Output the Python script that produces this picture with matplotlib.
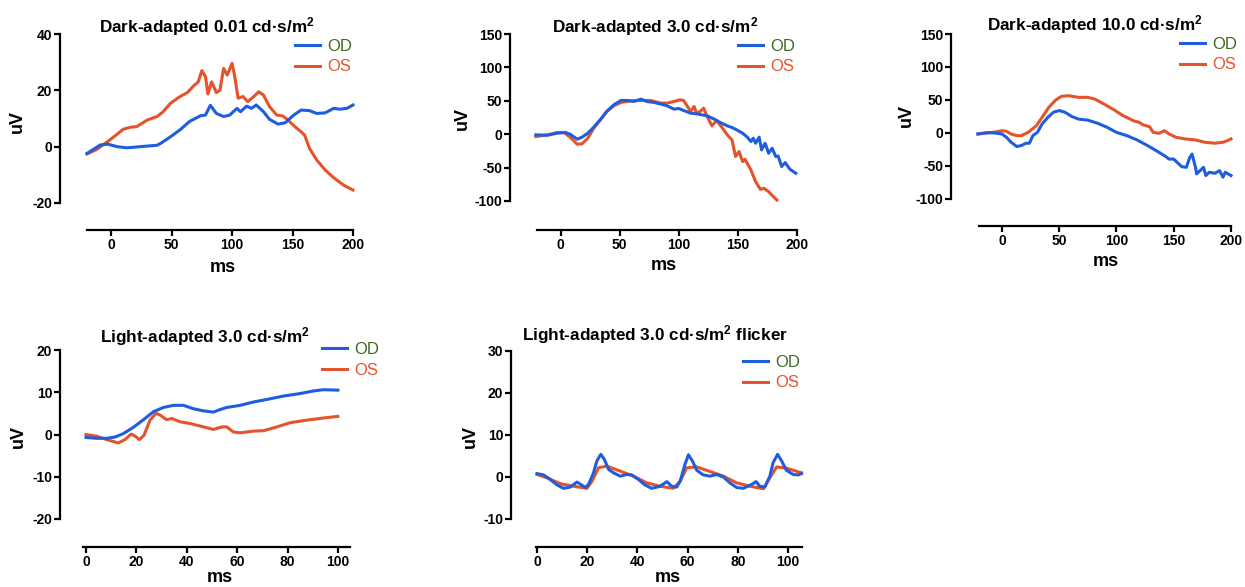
import matplotlib
matplotlib.use("Agg")
import matplotlib.pyplot as plt

plt.rcParams['font.family'] = ['Liberation Sans', 'DejaVu Sans']
plt.rcParams['mathtext.fontset'] = 'custom'
plt.rcParams['mathtext.rm'] = 'Liberation Sans:bold'
plt.rcParams['mathtext.bf'] = 'Liberation Sans:bold'
plt.rcParams['mathtext.default'] = 'bf'
plt.rcParams['axes.unicode_minus'] = False

BLUE = '#1f5ddf'
ORANGE = '#e5532a'
GREEN = '#3d6b21'

series_labels = ['OD', 'OS']

# ---- Panel 1: Dark-adapted 0.01
p1_od_x = [-20, -9, -3, 5, 13, 24, 38, 41, 49, 57, 65, 74, 78, 82, 87, 93, 98, 104, 107, 112, 116, 120,
           126, 131, 138, 144, 151, 157, 164, 170, 177, 184, 189, 195, 200]
p1_od_y = [-2.4, 0.6, 0.9, 0, -0.4, 0, 0.5, 1.2, 3.5, 6, 9, 11, 11.2, 14.7, 11.8, 10.7, 11.2, 13.6, 12.4,
           14.4, 13.6, 14.8, 12.4, 9.7, 8, 8.5, 11.2, 13, 12.8, 11.8, 12, 13.6, 13.3, 13.6, 14.8]
p1_os_x = [-20, -12, -3, 4, 10, 16, 21, 30, 38, 43, 49, 57, 63, 68, 72, 75, 78, 80, 83, 87, 90, 93, 96,
           100, 102, 105, 109, 113, 118, 122, 126, 131, 137, 142, 146, 152, 157, 160, 164, 170, 177, 184,
           192, 200]
p1_os_y = [-2.6, -1, 1.8, 4.1, 6.2, 6.9, 7.1, 9.5, 10.7, 12.4, 15.4, 17.8, 19.2, 21.5, 23, 27, 24.9,
           18.7, 23, 19.2, 20.1, 27.8, 25.4, 29.6, 25.4, 17.2, 17.8, 16, 17.8, 19.5, 18.3, 14.2, 11.2,
           10.9, 9.5, 7.1, 5.3, 4.1, -0.6, -4.7, -8.3, -11, -13.6, -15.4]

# ---- Panel 2: Dark-adapted 3.0
p2_od_x = [-21, -11, -3, 4, 8, 14, 18, 23, 28, 34, 39, 45, 51, 56, 62, 68, 73, 79, 85, 90, 96, 100, 104,
           110, 115, 124, 130, 135, 141, 145, 149, 154, 158, 161, 163, 165, 168, 170, 173, 176, 179, 182,
           184, 187, 190, 194, 199]
p2_od_y = [-1, -1.5, 1.5, 2.5, 0, -7.5, -4.5, 1.5, 10.5, 22.5, 34, 44, 50.5, 50.5, 49, 52.5, 49, 47.5,
           45, 42.5, 37.5, 38.5, 35.5, 31.5, 30.5, 27.5, 22.5, 17.5, 12.5, 10, 6.5, 1.5, -4.5, -11, -6,
           -13.5, -4.5, -23.5, -13.5, -28.5, -21, -33.5, -32.5, -48.5, -42.5, -52.5, -58.5]
p2_os_x = [-21, -11, -3, 3, 8, 14, 18, 23, 28, 34, 39, 45, 51, 59, 68, 76, 85, 90, 96, 101, 104, 107,
           110, 113, 115, 118, 121, 124, 128, 132, 137, 141, 145, 148, 151, 154, 156, 161, 165, 169, 172,
           176, 180, 183]
p2_os_y = [-3.5, -1, 2.5, 2.5, -4.5, -15, -14.5, -6, 9, 22.5, 34, 42.5, 47.5, 50, 50.5, 50.5, 46.5,
           46.5, 49, 51.5, 50.5, 42.5, 34, 41.5, 31.5, 34, 39, 26.5, 12.5, 20.5, 9, -1, -8.5, -33.5, -26,
           -41, -37.5, -53.5, -71, -82.5, -81, -86, -93.5, -98.5]

# ---- Panel 3: Dark-adapted 10.0
p3_od_x = [-21, -13, -6, 0, 4, 8, 13, 17, 21, 24, 27, 31, 35, 40, 45, 50, 55, 61, 67, 75, 84, 92, 100,
           109, 118, 126, 135, 142, 146, 150, 153, 157, 161, 164, 166, 169, 170, 173, 176, 178, 181, 186,
           190, 193, 195, 200]
p3_od_y = [-1.5, 0.5, 0, -1.5, -6.5, -14, -20.5, -19, -15.5, -15.5, -4, 1, 13.5, 23.5, 31.5, 34, 31.5,
           25, 21, 19.5, 14.5, 8.5, 1, -4, -10.5, -18, -27, -34.5, -39.5, -39.5, -44.5, -51, -52, -37,
           -32, -52, -62, -57, -52, -64.5, -59.5, -61, -57, -67, -59.5, -64.5]
p3_os_x = [-21, -13, -6, 0, 4, 8, 13, 17, 23, 30, 35, 41, 47, 52, 58, 67, 75, 81, 89, 98, 106, 115, 120,
           123, 126, 129, 132, 137, 142, 146, 152, 160, 169, 177, 186, 193, 197, 200]
p3_os_y = [-1.5, 0, 1.5, 3.5, 2.5, -1.5, -4, -4, 1, 11, 23.5, 39, 50, 55.5, 56.5, 54, 54, 51.5, 44, 35,
           26, 18.5, 16, 12.5, 11, 9.5, 1, -0.5, 3.5, -1.5, -6.5, -9, -10.5, -14, -15.5, -14, -11.5, -9]

# ---- Panel 4: Light-adapted 3.0
p4_od_x = [0, 4.2, 8.2, 11.5, 14.8, 18.8, 22.8, 26.8, 30.7, 34.7, 38.7, 42.6, 46.6, 50.6, 53.2, 55.9,
           61.2, 66.5, 71.8, 78.4, 85, 90.3, 94.3, 100]
p4_od_y = [-0.7, -0.9, -0.9, -0.6, 0.2, 1.7, 3.5, 5.4, 6.4, 6.9, 6.9, 6.1, 5.6, 5.3, 5.9, 6.4, 6.9, 7.7,
           8.3, 9.1, 9.7, 10.3, 10.6, 10.5]
p4_os_x = [0, 4.2, 8.2, 12.8, 15.5, 17.9, 19.5, 21.2, 23, 25.4, 27.8, 29.4, 32, 34, 37.4, 41.3, 45.3,
           50.6, 53.9, 55.9, 58.5, 61.2, 66.5, 70.5, 75.8, 81.1, 87.7, 94.3, 100]
p4_os_y = [0, -0.4, -1.2, -2, -1.2, 0.1, -0.4, -1.2, -0.2, 3.4, 5, 4.6, 3.5, 3.8, 3, 2.6, 2, 1.2, 1.8,
           1.8, 0.6, 0.4, 0.8, 0.9, 1.8, 2.8, 3.4, 3.9, 4.3]

# ---- Panel 5: Light-adapted 3.0 flicker
p5_od_x = [0, 2.6, 5.3, 8, 10.6, 13.2, 15.9, 17.5, 19.2, 20.5, 22.5, 23.8, 25.4, 26.8, 28.5, 30.5, 33.1,
           35.8, 37.7, 40.4, 43, 45.7, 49, 51.7, 53.6, 55.6, 57, 58.9, 60.3, 61.9, 63.6, 66.2, 68.9, 71.5,
           74.2, 76.8, 79.5, 82.1, 85.4, 87.2, 88.7, 90.7, 92.7, 94, 95.8, 97.4, 99.3, 102, 104, 105.3]
p5_od_y = [0.8, 0.5, -0.6, -1.9, -2.7, -2.4, -1.2, -1.8, -2.5, -1.8, 1, 3.8, 5.4, 4.2, 1.8, 1, 0.2, 0.6,
           0.5, -0.6, -1.9, -2.7, -2.2, -1.1, -2.2, -2.4, -1, 3, 5.3, 3.8, 1.6, 0.5, 0.2, 0.6, 0, -1.4,
           -2.5, -2.7, -1.8, -1.1, -2.2, -2.4, 0.2, 3.4, 5.4, 3.8, 1.6, 0.6, 0.5, 0.8]
p5_os_x = [0, 4, 9.3, 14.6, 19.9, 21.9, 24.5, 27.8, 33.1, 38.4, 43.7, 49, 54.3, 57, 59.6, 63.6, 68.9,
           74.2, 79.5, 84.8, 90.1, 92.7, 95.4, 99.3, 105.3]
p5_os_y = [0.6, -0.2, -1.6, -2.2, -2.7, -1, 2.2, 2.6, 1.4, 0.2, -1.4, -2.2, -2.7, -1, 2.2, 2.4, 1.3, 0.2,
           -1.4, -2.2, -2.8, -0.2, 2.4, 2.1, 1]

titles = [r"Dark-adapted 0.01 cd·s/m$^{2}$",
          r"Dark-adapted 3.0 cd·s/m$^{2}$",
          r"Dark-adapted 10.0 cd·s/m$^{2}$",
          r"Light-adapted 3.0 cd·s/m$^{2}$",
          r"Light-adapted 3.0 cd·s/m$^{2}$ flicker"]

W, H = 1245, 587
fig = plt.figure(figsize=(W / 100, H / 100), dpi=100)


def fx(px):
    return px / W


def fy(py):
    return 1 - py / H


panels = [
    dict(box=(87, 34, 353, 203), xlim=(-20, 200), ylim=(-20, 40), xt=[0, 50, 100, 150, 200],
         yt=[-20, 0, 20, 40], lo=27, bo=27, tp=(207, 27), yl=(17, 122), xl=(223, 267), lg=(295, 56.5),
         od=(p1_od_x, p1_od_y), os=(p1_os_x, p1_os_y)),
    dict(box=(537, 34, 797, 201), xlim=(-20, 200), ylim=(-100, 150), xt=[0, 50, 100, 150, 200],
         yt=[-100, -50, 0, 50, 100, 150], lo=27, bo=29, tp=(655, 27), yl=(462, 119), xl=(664, 265),
         lg=(738, 56.5), od=(p2_od_x, p2_od_y), os=(p2_os_x, p2_os_y)),
    dict(box=(979, 34, 1231, 199), xlim=(-20, 200), ylim=(-100, 150), xt=[0, 50, 100, 150, 200],
         yt=[-100, -50, 0, 50, 100, 150], lo=28, bo=27, tp=(1095, 25), yl=(906, 116), xl=(1106, 262),
         lg=(1180, 54.5), od=(p3_od_x, p3_od_y), os=(p3_os_x, p3_os_y)),
    dict(box=(83, 350, 350, 519), xlim=(-1.2, 104.8), ylim=(-20, 20), xt=[0, 20, 40, 60, 80, 100],
         yt=[-20, -10, 0, 10, 20], lo=23, bo=28, tp=(205, 337), yl=(18, 436), xl=(220, 577),
         lg=(322, 360), od=(p4_od_x, p4_od_y), os=(p4_os_x, p4_os_y)),
    dict(box=(536, 351, 802, 519), xlim=(-0.4, 105.5), ylim=(-10, 30), xt=[0, 20, 40, 60, 80, 100],
         yt=[-10, 0, 10, 20, 30], lo=25, bo=28, tp=(655, 335), yl=(470, 437), xl=(668, 577),
         lg=(743, 372.5), od=(p5_od_x, p5_od_y), os=(p5_os_x, p5_os_y)),
]

for i, p in enumerate(panels):
    x0, y0, x1, y1 = p['box']
    ax = fig.add_axes([fx(x0), fy(y1), (x1 - x0) / W, (y1 - y0) / H])
    ax.set_xlim(*p['xlim'])
    ax.set_ylim(*p['ylim'])
    l_os, = ax.plot(p['os'][0], p['os'][1], color=ORANGE, lw=2.2, zorder=2, clip_on=False,
                    solid_joinstyle='round')
    l_od, = ax.plot(p['od'][0], p['od'][1], color=BLUE, lw=2.2, zorder=3, clip_on=False,
                    solid_joinstyle='round')
    for s in ['top', 'right']:
        ax.spines[s].set_visible(False)
    ax.spines['left'].set_position(('outward', p['lo'] * 0.72))
    ax.spines['bottom'].set_position(('outward', p['bo'] * 0.72))
    for s in ['left', 'bottom']:
        ax.spines[s].set_linewidth(1.6)
    ax.set_xticks(p['xt'])
    ax.set_yticks(p['yt'])
    ax.tick_params(direction='out', length=4, width=1.6, labelsize=10, pad=1.5)
    for lab in ax.get_xticklabels() + ax.get_yticklabels():
        lab.set_fontweight('bold')
    ax.patch.set_visible(False)

    fig.text(fx(p['tp'][0]), fy(p['tp'][1]), titles[i], ha='center', va='center',
             fontsize=12.3, fontweight='bold')
    fig.text(fx(p['yl'][0]), fy(p['yl'][1]), 'uV', ha='center', va='center', rotation=90,
             fontsize=13, fontweight='bold')
    fig.text(fx(p['xl'][0]), fy(p['xl'][1]), 'ms', ha='center', va='center',
             fontsize=13, fontweight='bold')
    ax.legend([l_od, l_os], series_labels, loc='center left',
              bbox_to_anchor=(fx(p['lg'][0]), fy(p['lg'][1])), bbox_transform=fig.transFigure,
              frameon=False, fontsize=12, handlelength=1.5, handletextpad=0.45, labelspacing=0.35,
              borderpad=0, borderaxespad=0, labelcolor=[GREEN, ORANGE])

fig.savefig('out.png', dpi=100)
